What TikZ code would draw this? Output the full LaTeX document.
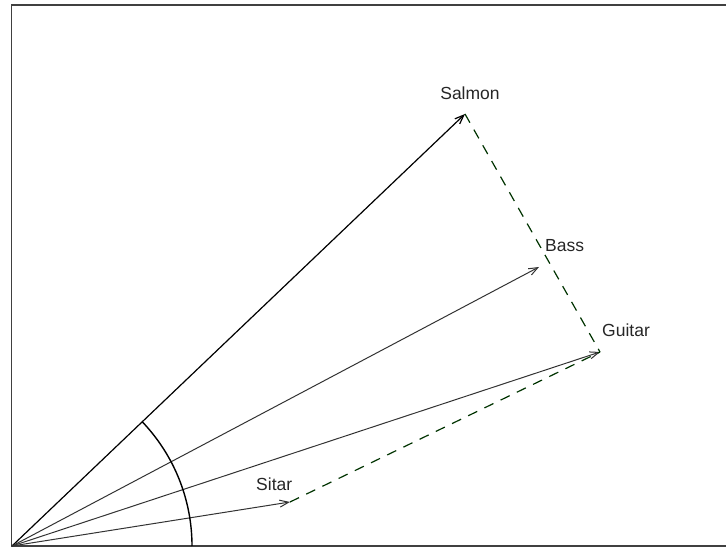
\documentclass[tikz,border=0pt]{standalone}
\usepackage{fontspec}
\setmainfont{Liberation Sans}
\usetikzlibrary{arrows.meta}
\begin{document}
\begin{tikzpicture}[x=1pt,y=1pt,
  vec/.style={draw=black!80, line width=1pt, -{Straight Barb[length=9pt,width=7pt]}},
  mainvec/.style={draw=black, line width=1.2pt, -{Straight Barb[length=9pt,width=7pt]}},
  dashline/.style={draw=black!80!green, line width=1.2pt, dash pattern=on 10pt off 8pt},
  lbl/.style={font=\fontsize{17.5}{20}\selectfont, text=black!85, inner sep=0pt}]
\useasboundingbox (0,0) rectangle (726,549);
% frame
\coordinate (fbl) at (11.5,3);
\coordinate (ftl) at (11.5,544);
\coordinate (ftr) at (726,544);
\coordinate (fbr) at (726,3);
\draw[black!75, line width=1.8pt] (fbr) -- (fbl) -- (ftl) -- (ftr);
% vectors
\coordinate (O) at (12,3);
\coordinate (salmon) at (465,435);
\coordinate (bass) at (539,282);
\coordinate (guitar) at (600,197);
\coordinate (sitar) at (290,47);
\draw[mainvec] (O) -- (salmon);
\draw[vec] (O) -- (bass);
\draw[vec] (O) -- (guitar);
\draw[vec] (O) -- (sitar);
% dashed
\draw[dashline] (salmon) -- (guitar);
\draw[dashline] (sitar) -- (guitar);
% arc
\draw[black, line width=1.4pt] (192,3) arc[start angle=0, end angle=43.6, radius=180];
% labels
\node[lbl] (ls) at (470,456) {Salmon};
\node[lbl, anchor=west] (lb) at (545,303) {Bass};
\node[lbl, anchor=west] (lg) at (602,219) {Guitar};
\node[lbl, anchor=west] (lsi) at (256,65) {Sitar};
\end{tikzpicture}
\end{document}
